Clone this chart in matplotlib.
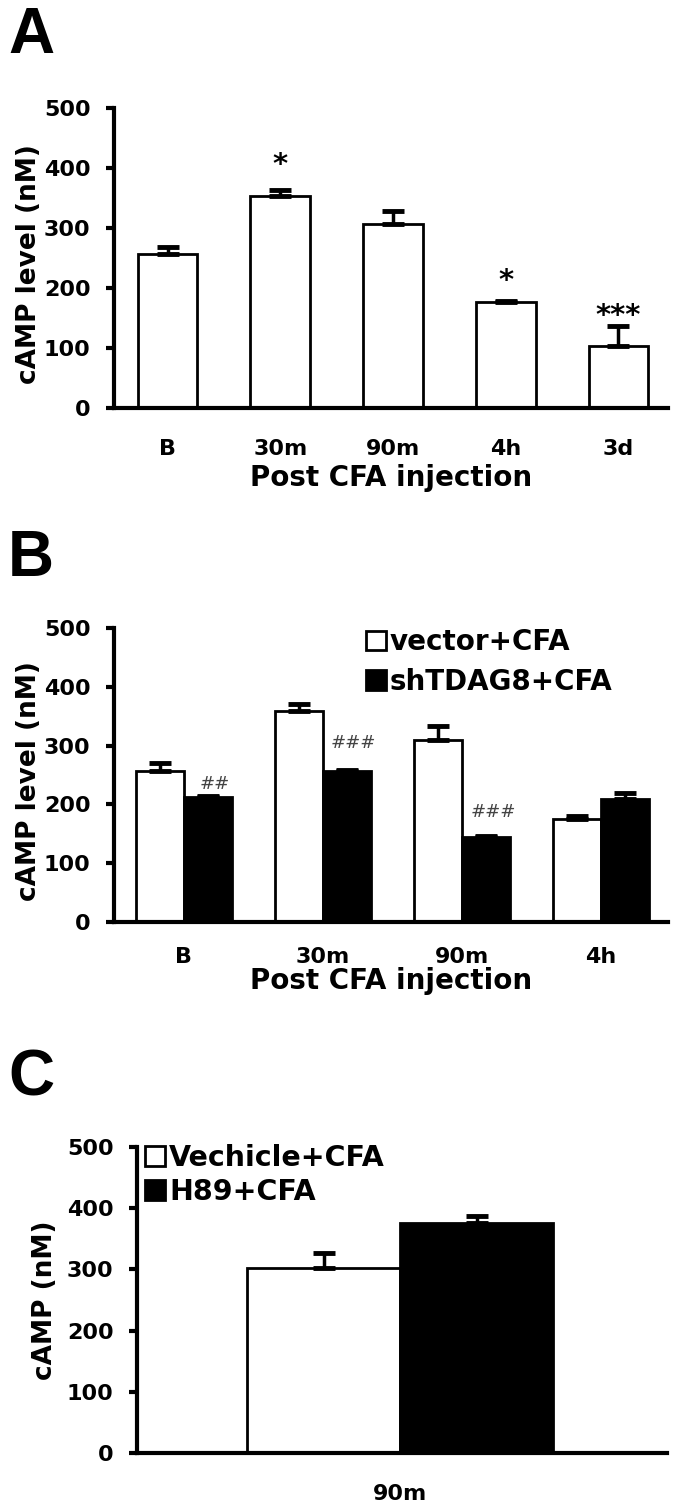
import numpy as np
import matplotlib
matplotlib.use("Agg")
import matplotlib.pyplot as plt

plt.rcParams["font.family"] = ["DejaVu Sans"]
plt.rcParams["font.weight"] = "bold"

# Panel A: cAMP level after CFA injection
a_labels = ["B", "30m", "90m", "4h", "3d"]
a_vals = [256, 353, 307, 176, 104]
a_errs = [13, 11, 22, 3, 32]
a_marks = ["", "*", "", "*", "***"]
a_mark_y = [0, 405, 0, 211, 153]

# Panel B: vector vs shTDAG8
b_labels = ["B", "30m", "90m", "4h"]
b_vector = [257, 358, 310, 176]
b_vector_err = [13, 12, 23, 4]
b_sh = [212, 256, 144, 209]
b_sh_err = [2, 2, 2, 10]
b_marks = ["##", "###", "###", ""]
b_mark_y = [235, 305, 187, 0]

# Panel C: vehicle vs H89 at 90m
c_label = "90m"
c_names = ["Vechicle+CFA", "H89+CFA"]
c_vals = [303, 376]
c_errs = [23, 11]

W, H = 675, 1509
fig = plt.figure(figsize=(W / 100, H / 100), dpi=100)


def px_axes(left, top, right, bottom):
    return fig.add_axes([left / W, 1 - bottom / H, (right - left) / W, (bottom - top) / H])


def style_axes(ax, ylabel, xpad):
    ax.set_ylim(0, 500)
    ax.set_yticks([0, 100, 200, 300, 400, 500])
    for side in ["top", "right"]:
        ax.spines[side].set_visible(False)
    for side in ["left", "bottom"]:
        ax.spines[side].set_linewidth(3)
    ax.tick_params(axis="y", direction="out", length=6, width=3, pad=11, labelsize=16)
    ax.tick_params(axis="x", length=0, pad=xpad, labelsize=16)
    ax.set_ylabel(ylabel, fontsize=19, fontweight="bold")
    for lbl in ax.get_yticklabels() + ax.get_xticklabels():
        lbl.set_fontweight("bold")


def up_err(ax, x, vals, errs):
    ax.errorbar(x, vals, yerr=[np.zeros(len(errs)), errs], fmt="none", ecolor="black",
                elinewidth=2.5, capsize=8, capthick=3.5, zorder=3)


# ---- Panel A ----
ax = px_axes(114, 108, 668, 408)
xa = np.arange(len(a_labels))
ax.bar(xa, a_vals, width=0.53, color="white", edgecolor="black", linewidth=2, zorder=2)
up_err(ax, xa, a_vals, a_errs)
for i, m in enumerate(a_marks):
    if m:
        ax.text(xa[i], a_mark_y[i], m, ha="center", va="center", fontsize=21)
ax.set_xlim(-0.475, 4.44)
ax.set_xticks(xa)
ax.set_xticklabels(a_labels)
style_axes(ax, "cAMP level (nM)", 22)
ax.set_xlabel("Post CFA injection", fontsize=20, fontweight="bold", labelpad=4)
ax.yaxis.set_label_coords(-0.13, 0.48)

# ---- Panel B ----
ax = px_axes(114, 628, 668, 922)
xb = np.arange(len(b_labels))
w = 0.345
ax.bar(xb - w / 2, b_vector, width=w, color="white", edgecolor="black", linewidth=2,
       zorder=2, label="vector+CFA")
ax.bar(xb + w / 2, b_sh, width=w, color="black", edgecolor="black", linewidth=2,
       zorder=2, label="shTDAG8+CFA")
up_err(ax, xb - w / 2, b_vector, b_vector_err)
up_err(ax, xb + w / 2, b_sh, b_sh_err)
for i, m in enumerate(b_marks):
    if m:
        ax.text(xb[i] + w / 2 + 0.05, b_mark_y[i], m, ha="center", va="center", fontsize=13,
                fontstyle="italic", fontweight="normal", color="#444444")
ax.set_xlim(-0.5, 3.48)
ax.set_xticks(xb)
ax.set_xticklabels(b_labels)
style_axes(ax, "cAMP level (nM)", 18)
ax.set_xlabel("Post CFA injection", fontsize=20, fontweight="bold", labelpad=0)
ax.yaxis.set_label_coords(-0.13, 0.48)
ax.legend(loc="upper left", bbox_to_anchor=(0.455, 1.0), frameon=False,
          prop=dict(weight="bold", size=20), handlelength=0.7, handleheight=0.7,
          handletextpad=0.15, labelspacing=0.42, borderaxespad=0, borderpad=0)

# ---- Panel C ----
ax = px_axes(137, 1147, 667, 1453)
xc = np.array([0, 1])
ax.bar(xc[0], c_vals[0], width=1.0, color="white", edgecolor="black", linewidth=2,
       zorder=2, label=c_names[0])
ax.bar(xc[1], c_vals[1], width=1.0, color="black", edgecolor="black", linewidth=2,
       zorder=2, label=c_names[1])
up_err(ax, xc, c_vals, c_errs)
ax.set_xlim(-1.22, 2.245)
ax.set_xticks([0.5])
ax.set_xticklabels([c_label])
style_axes(ax, "cAMP (nM)", 22)
ax.yaxis.set_label_coords(-0.15, 0.5)
ax.legend(loc="upper left", bbox_to_anchor=(0.015, 1.01), frameon=False,
          prop=dict(weight="bold", size=20.5), handlelength=0.7, handleheight=0.7,
          handletextpad=0.15, labelspacing=0.2, borderaxespad=0, borderpad=0)

# panel letters
for letter, top in [("A", 6), ("B", 529), ("C", 1049)]:
    fig.text(8 / W, 1 - top / H, letter, ha="left", va="top", fontsize=46,
             fontweight="bold", family="Liberation Sans")

fig.savefig("out.png", dpi=100, facecolor="white")
